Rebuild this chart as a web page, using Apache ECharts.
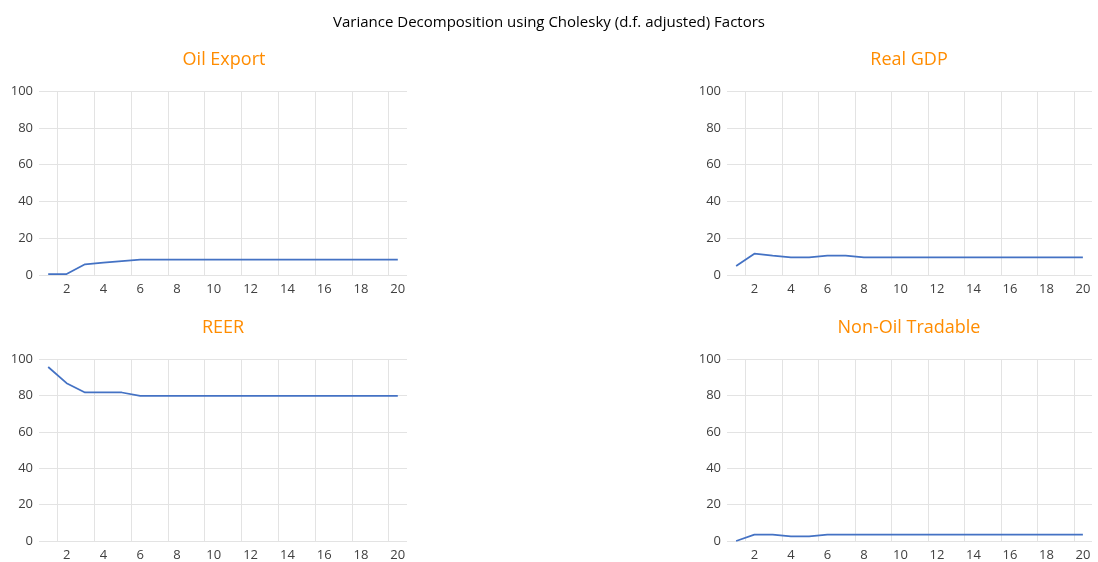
<!DOCTYPE html>
<html>
<head>
<meta charset="utf-8">
<title>Variance Decomposition</title>
<script src="https://cdn.jsdelivr.net/npm/echarts@6/dist/echarts.min.js"></script>
<style>
  html, body { margin: 0; padding: 0; background: #fff; }
  #chart { width: 1098px; height: 562px; }
</style>
</head>
<body>
<div id="chart"></div>
<script>
// Forecast horizons (periods)
const periods = ['1','2','3','4','5','6','7','8','9','10','11','12','13','14','15','16','17','18','19','20'];
const yTicks = [0, 20, 40, 60, 80, 100];

// Share of forecast-error variance (%) per panel
const oilExport = [0.5, 0.5, 5.8, 6.7, 7.6, 8.3, 8.3, 8.3, 8.3, 8.3, 8.3, 8.3, 8.3, 8.3, 8.3, 8.3, 8.3, 8.3, 8.3, 8.3];
const realGdp = [4.9, 11.6, 10.5, 9.6, 9.6, 10.5, 10.5, 9.6, 9.6, 9.6, 9.6, 9.6, 9.6, 9.6, 9.6, 9.6, 9.6, 9.6, 9.6, 9.6];
const reer = [95.6, 86.7, 81.6, 81.6, 81.6, 79.7, 79.7, 79.7, 79.7, 79.7, 79.7, 79.7, 79.7, 79.7, 79.7, 79.7, 79.7, 79.7, 79.7, 79.7];
const nonOilTradable = [0.0, 3.5, 3.5, 2.6, 2.6, 3.5, 3.5, 3.5, 3.5, 3.5, 3.5, 3.5, 3.5, 3.5, 3.5, 3.5, 3.5, 3.5, 3.5, 3.5];

const panelTitles = ['Oil Export', 'Real GDP', 'REER', 'Non-Oil Tradable'];
const panelData = [oilExport, realGdp, reer, nonOilTradable];

// Category boundaries (one more than the periods), used only for the vertical gridlines
const boundaries = [''].concat(periods);

const FONT = '"Open Sans", "Noto Sans", sans-serif';
const grids = [
  { left: 39, width: 368, top: 91, height: 184 },
  { left: 727, width: 365, top: 91, height: 184 },
  { left: 39, width: 368, top: 359, height: 183 },
  { left: 727, width: 365, top: 359, height: 183 }
];
const titleCenters = [[219, 46], [904, 46], [218, 314], [904, 314]];

const oddIdx = (idx) => idx % 2 === 1;
const GRID_COLOR = '#e3e3e3';

const xAxes = [];
grids.forEach((g, i) => {
  // period axis: labels 2, 4, ..., 20
  xAxes.push({
    type: 'category',
    gridIndex: i,
    data: periods,
    boundaryGap: true,
    axisLine: { show: false },
    axisTick: { show: false },
    axisLabel: {
      interval: oddIdx, margin: 8,
      fontFamily: FONT, fontSize: 13, color: '#404040'
    },
    splitLine: { show: false }
  });
  // boundary axis: vertical gridlines between periods 1|2, 3|4, ..., 19|20
  xAxes.push({
    type: 'category',
    gridIndex: i,
    data: boundaries,
    boundaryGap: false,
    position: 'bottom',
    axisLine: { show: false },
    axisTick: { show: false },
    axisLabel: { show: false },
    splitLine: { show: true, interval: oddIdx, lineStyle: { color: GRID_COLOR, width: 1 } }
  });
});

const option = {
  animation: false,
  backgroundColor: '#fff',
  title: [
    {
      text: 'Variance Decomposition using Cholesky (d.f. adjusted) Factors',
      left: 'center', top: 10,
      textStyle: { fontFamily: FONT, fontSize: 15, fontWeight: 'normal', color: '#000' }
    }
  ].concat(panelTitles.map((t, i) => ({
    text: t,
    left: titleCenters[i][0], top: titleCenters[i][1],
    textAlign: 'center',
    textStyle: { fontFamily: FONT, fontSize: 18, fontWeight: 'normal', color: '#FF8C00' }
  }))),
  grid: grids.map(g => Object.assign({ containLabel: false }, g)),
  xAxis: xAxes,
  yAxis: grids.map((g, i) => ({
    type: 'value',
    gridIndex: i,
    min: yTicks[0], max: yTicks[yTicks.length - 1], interval: yTicks[1] - yTicks[0],
    axisLine: { show: false },
    axisTick: { show: false },
    axisLabel: { margin: 6, fontFamily: FONT, fontSize: 13, color: '#404040' },
    splitLine: { show: true, lineStyle: { color: GRID_COLOR, width: 1 } }
  })),
  series: panelData.map((d, i) => ({
    type: 'line',
    name: panelTitles[i],
    xAxisIndex: i * 2, yAxisIndex: i,
    data: d,
    showSymbol: false,
    symbol: 'none',
    lineStyle: { color: '#4472C4', width: 1.75 }
  }))
};

echarts.init(document.getElementById('chart'), null, { renderer: 'canvas' }).setOption(option);
</script>
</body>
</html>
